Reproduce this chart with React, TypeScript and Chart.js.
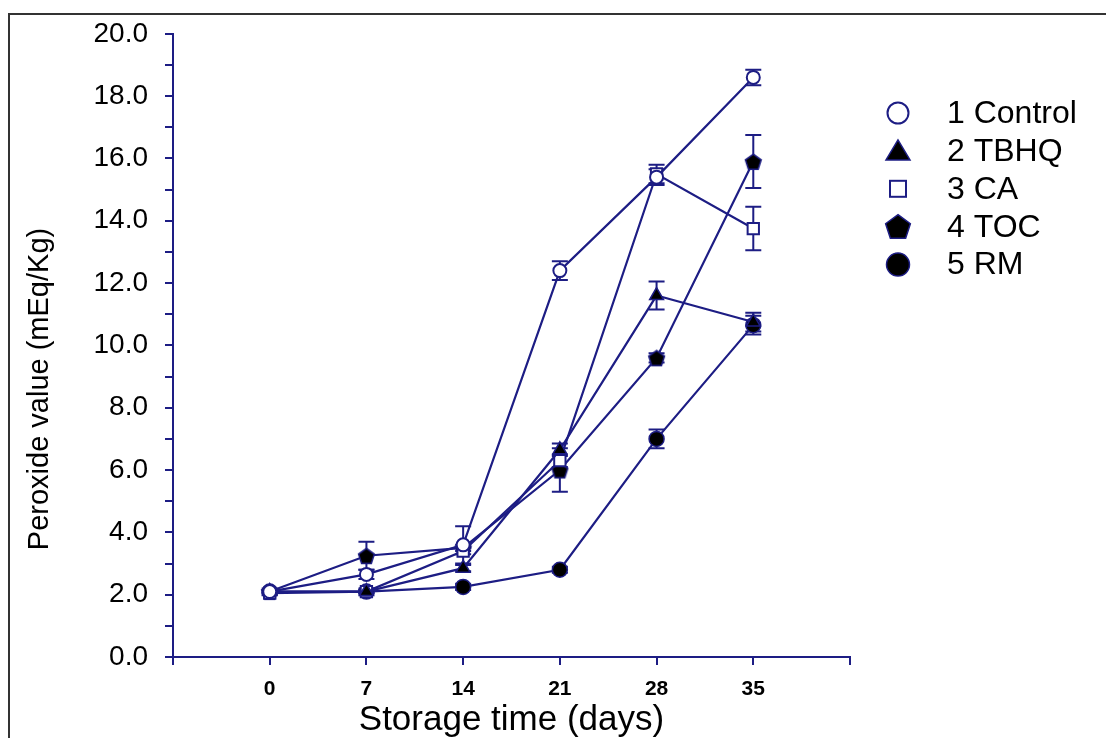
import React, { useEffect, useRef } from 'react';
import { Chart, registerables } from 'chart.js';

Chart.register(...registerables);

// ---------- data ----------
const days = [0, 7, 14, 21, 28, 35];
const xTickLabels = [0, 7, 14, 21, 28, 35];
const seriesLabels = ['1 Control', '2 TBHQ', '3 CA', '4 TOC', '5 RM'];

const control = [2.1, 2.65, 3.6, 12.4, 15.4, 18.6];
const controlErr = [0.1, 0.15, 0.6, 0.3, 0.25, 0.25];

const tbhq = [2.1, 2.1, 2.85, 6.65, 11.6, 10.75];
const tbhqErr = [0.05, 0.05, 0.1, 0.2, 0.45, 0.3];

const ca = [2.05, 2.1, 3.4, 6.3, 15.5, 13.75];
const caErr = [0.05, 0.05, 0.1, 0.2, 0.3, 0.7];

const toc = [2.1, 3.25, 3.5, 6.0, 9.6, 15.9];
const tocErr = [0.05, 0.45, 0.1, 0.7, 0.15, 0.85];

const rm = [2.1, 2.1, 2.25, 2.8, 7.0, 10.65];
const rmErr = [0.05, 0.1, 0.1, 0.1, 0.3, 0.3];

const errors = [controlErr, tbhqErr, caErr, tocErr, rmErr];
const markerKinds = ['circleOpen', 'triangle', 'square', 'pentagon', 'circleFilled'];

const NAVY = '#1d1d84';
const FONT = '"Liberation Sans", Arial, Helvetica, sans-serif';

function pentagonPath(ctx: CanvasRenderingContext2D, cx: number, cy: number, r: number) {
  ctx.beginPath();
  for (let k = 0; k < 5; k++) {
    const a = -Math.PI / 2 + (k * 2 * Math.PI) / 5;
    const px = cx + r * Math.cos(a);
    const py = cy + r * Math.sin(a);
    if (k === 0) ctx.moveTo(px, py);
    else ctx.lineTo(px, py);
  }
  ctx.closePath();
}

function makePentagon(size: number) {
  const c = document.createElement('canvas');
  c.width = size;
  c.height = size;
  const g = c.getContext('2d')!;
  pentagonPath(g, size / 2, size / 2 + size * 0.05, size / 2 - 1.2);
  g.fillStyle = '#000';
  g.fill();
  g.lineWidth = 1.5;
  g.strokeStyle = NAVY;
  g.stroke();
  return c;
}

function drawLegendMarker(ctx: CanvasRenderingContext2D, kind: string, x: number, y: number) {
  ctx.save();
  ctx.lineWidth = 2;
  ctx.strokeStyle = NAVY;
  if (kind === 'circleOpen') {
    ctx.beginPath();
    ctx.arc(x, y, 10.5, 0, Math.PI * 2);
    ctx.fillStyle = '#fff';
    ctx.fill();
    ctx.stroke();
  } else if (kind === 'triangle') {
    ctx.beginPath();
    ctx.moveTo(x, y - 11);
    ctx.lineTo(x - 12, y + 9);
    ctx.lineTo(x + 12, y + 9);
    ctx.closePath();
    ctx.fillStyle = '#000';
    ctx.fill();
    ctx.lineWidth = 1.5;
    ctx.stroke();
  } else if (kind === 'square') {
    ctx.fillStyle = '#fff';
    ctx.fillRect(x - 8, y - 8, 16, 16);
    ctx.strokeRect(x - 8, y - 8, 16, 16);
  } else if (kind === 'pentagon') {
    pentagonPath(ctx, x, y + 1, 13);
    ctx.fillStyle = '#000';
    ctx.fill();
    ctx.lineWidth = 1.5;
    ctx.stroke();
  } else {
    ctx.beginPath();
    ctx.arc(x, y, 11.5, 0, Math.PI * 2);
    ctx.fillStyle = '#000';
    ctx.fill();
    ctx.lineWidth = 1.5;
    ctx.stroke();
  }
  ctx.restore();
}

const errorBarPlugin = {
  id: 'errorBars',
  beforeDatasetsDraw(chart: any) {
    const { ctx, scales } = chart;
    const xs = scales.x;
    const ys = scales.y;
    ctx.save();
    ctx.strokeStyle = NAVY;
    ctx.lineWidth = 2;
    chart.data.datasets.forEach((ds: any, di: number) => {
      const errs = errors[di];
      ds.data.forEach((pt: any, i: number) => {
        const e = errs[i];
        if (!e) return;
        const px = xs.getPixelForValue(pt.x);
        const top = ys.getPixelForValue(pt.y + e);
        const bot = ys.getPixelForValue(pt.y - e);
        ctx.beginPath();
        ctx.moveTo(px, top);
        ctx.lineTo(px, bot);
        ctx.moveTo(px - 8, top);
        ctx.lineTo(px + 8, top);
        ctx.moveTo(px - 8, bot);
        ctx.lineTo(px + 8, bot);
        ctx.stroke();
      });
    });
    ctx.restore();
  },
};

const decorPlugin = {
  id: 'decor',
  afterDraw(chart: any) {
    const { ctx, chartArea } = chart;
    ctx.save();
    // y-axis title
    ctx.translate(40, 389);
    ctx.rotate(-Math.PI / 2);
    ctx.font = `29px ${FONT}`;
    ctx.fillStyle = '#000';
    ctx.textAlign = 'center';
    ctx.textBaseline = 'middle';
    ctx.fillText('Peroxide value (mEq/Kg)', 0, 0);
    ctx.restore();

    // legend
    ctx.save();
    const mx = chartArea.right + 48;
    const tx = chartArea.right + 97;
    const y0 = 113;
    const step = 37.9;
    chart.data.datasets.forEach((ds: any, i: number) => {
      const cy = y0 + i * step;
      drawLegendMarker(ctx, markerKinds[i], mx, cy);
      ctx.font = `32px ${FONT}`;
      ctx.fillStyle = '#000';
      ctx.textAlign = 'left';
      ctx.textBaseline = 'middle';
      ctx.fillText(ds.label, tx, cy + 1);
    });
    ctx.restore();
  },
};

export default function App() {
  const ref = useRef<HTMLCanvasElement>(null);

  useEffect(() => {
    const canvas = ref.current!;
    const pent = makePentagon(19);
    const toPts = (arr: number[]) => arr.map((v, i) => ({ x: days[i], y: v }));
    const base = {
      borderColor: NAVY,
      borderWidth: 2.2,
      tension: 0,
      pointBorderColor: NAVY,
      fill: false,
    };
    const chart = new Chart(canvas, {
      type: 'line',
      data: {
        datasets: [
          {
            ...base,
            label: seriesLabels[0],
            data: toPts(control),
            pointStyle: 'circle',
            pointRadius: 6.5,
            pointBackgroundColor: '#fff',
            pointBorderWidth: 2,
          },
          {
            ...base,
            label: seriesLabels[1],
            data: toPts(tbhq),
            pointStyle: 'triangle',
            pointRadius: 8,
            pointBackgroundColor: '#000',
            pointBorderWidth: 1.5,
          },
          {
            ...base,
            label: seriesLabels[2],
            data: toPts(ca),
            pointStyle: 'rect',
            pointRadius: 8,
            pointBackgroundColor: '#fff',
            pointBorderWidth: 2,
          },
          {
            ...base,
            label: seriesLabels[3],
            data: toPts(toc),
            pointStyle: pent as any,
            pointRadius: 9,
            pointBackgroundColor: '#000',
            pointBorderWidth: 1.5,
          },
          {
            ...base,
            label: seriesLabels[4],
            data: toPts(rm),
            pointStyle: 'circle',
            pointRadius: 7.5,
            pointBackgroundColor: '#000',
            pointBorderWidth: 1.5,
          },
        ] as any,
      },
      options: {
        responsive: false,
        animation: false,
        devicePixelRatio: 1,
        layout: { padding: { left: 0, right: 256, top: 32, bottom: 0 } },
        plugins: {
          legend: { display: false },
          tooltip: { enabled: false },
        },
        scales: {
          x: {
            type: 'linear',
            min: -7,
            max: 42,
            ticks: {
              stepSize: 7,
              autoSkip: false,
              padding: 12,
              color: '#000',
              font: { family: FONT, size: 21, weight: 'bold' },
              callback: (v: any) => (xTickLabels.includes(v) ? String(v) : ''),
            },
            grid: { drawOnChartArea: false, drawTicks: true, tickLength: 8, color: NAVY, lineWidth: 2 },
            border: { display: true, color: NAVY, width: 2 },
            title: {
              display: true,
              text: 'Storage time (days)',
              color: '#000',
              font: { family: FONT, size: 35, lineHeight: 1 },
              padding: { top: 0, bottom: 0 },
            },
            afterFit: (s: any) => {
              s.height = 81;
            },
          },
          y: {
            type: 'linear',
            min: 0,
            max: 20,
            ticks: {
              stepSize: 1,
              autoSkip: false,
              padding: 17,
              color: '#000',
              font: { family: FONT, size: 28 },
              callback: (v: any) => (Number(v) % 2 === 0 ? Number(v).toFixed(1) : ''),
            },
            grid: { drawOnChartArea: false, drawTicks: true, tickLength: 8, color: NAVY, lineWidth: 2 },
            border: { display: true, color: NAVY, width: 2 },
            afterFit: (s: any) => {
              s.width = 173;
            },
          },
        },
      } as any,
      plugins: [errorBarPlugin, decorPlugin],
    });
    return () => chart.destroy();
  }, []);

  return (
    <div style={{ position: 'absolute', left: 0, top: 0, width: 1106, height: 738, background: '#fff', overflow: 'hidden' }}>
      <div
        style={{
          position: 'absolute',
          left: 8,
          top: 13,
          right: 0,
          bottom: 0,
          borderTop: '2px solid #333',
          borderLeft: '2px solid #333',
        }}
      />
      <canvas
        ref={ref}
        width={1106}
        height={738}
        style={{ position: 'absolute', left: 0, top: 0, width: 1106, height: 738 }}
      />
    </div>
  );
}
